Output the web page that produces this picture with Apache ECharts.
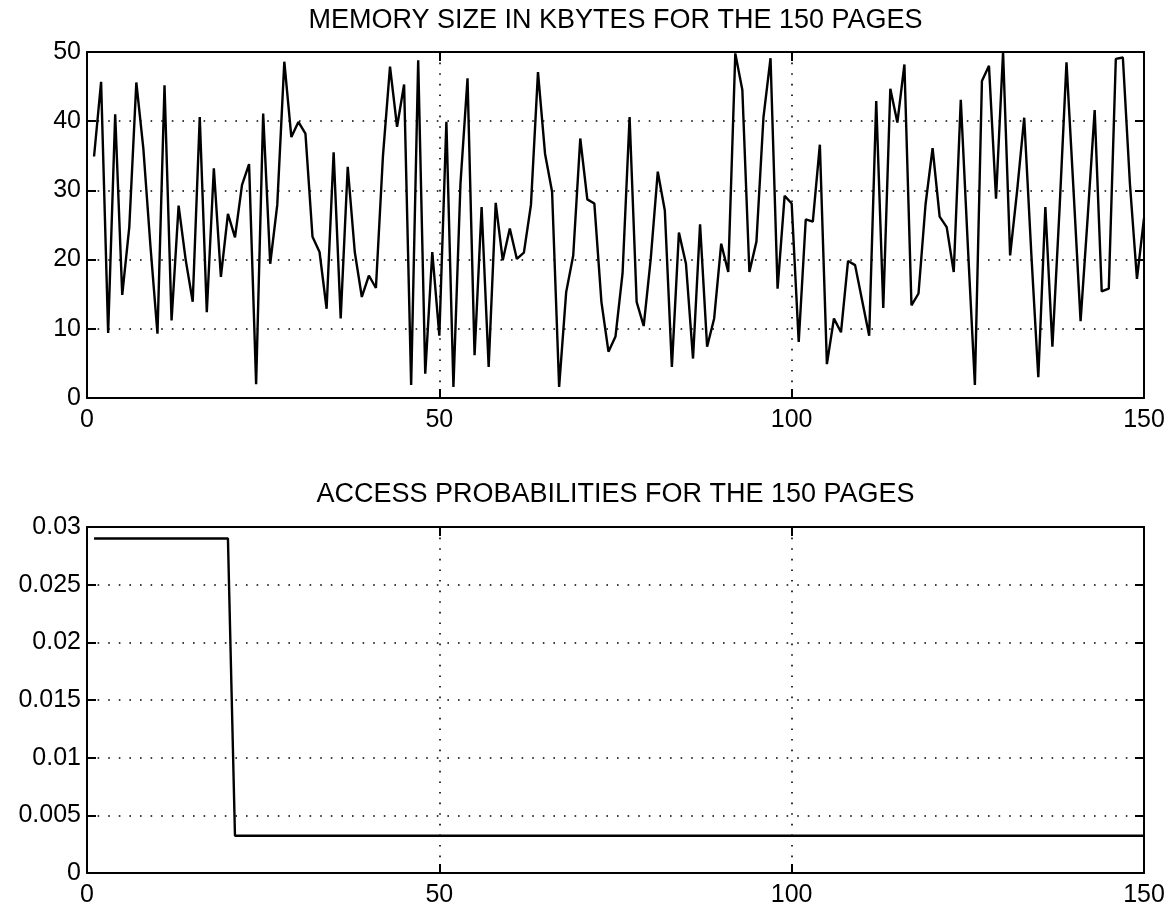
<!DOCTYPE html>
<html>
<head>
<meta charset="utf-8">
<script src="https://cdn.jsdelivr.net/npm/echarts@6/dist/echarts.min.js"></script>
<style>
html,body{margin:0;padding:0;background:#fff;}
#chart{width:1175px;height:911px;}
</style>
</head>
<body>
<div id="chart"></div>
<script>
// ---- data ----
const topTitle = 'MEMORY SIZE IN KBYTES FOR THE 150 PAGES';
const bottomTitle = 'ACCESS PROBABILITIES FOR THE 150 PAGES';

const memorySize = [
  34.9, 45.7, 9.4, 41.0, 14.9, 24.7, 45.6, 36.0, 22.0, 9.3,
  45.2, 11.2, 27.8, 20.0, 13.9, 40.6, 12.4, 33.2, 17.5, 26.6,
  23.2, 30.8, 33.8, 2.0, 41.1, 19.4, 27.9, 48.6, 37.7, 39.9,
  38.2, 23.3, 21.1, 12.9, 35.5, 11.5, 33.4, 21.1, 14.6, 17.7,
  15.9, 35.0, 47.9, 39.2, 45.3, 1.9, 48.8, 3.5, 21.1, 9.0,
  39.9, 1.6, 31.0, 46.2, 6.2, 27.6, 4.5, 28.2, 19.9, 24.5,
  20.1, 21.0, 27.9, 47.1, 35.3, 29.8, 1.6, 15.3, 20.6, 37.5,
  28.7, 28.1, 13.9, 6.7, 8.9, 18.0, 40.6, 13.9, 10.4, 20.1,
  32.7, 27.1, 4.5, 23.9, 19.4, 5.7, 25.1, 7.4, 11.5, 22.3,
  18.2, 49.8, 44.5, 18.2, 22.6, 40.6, 49.1, 15.8, 29.2, 28.1,
  8.1, 25.8, 25.5, 36.6, 4.9, 11.5, 9.5, 19.8, 19.2, 14.1,
  9.0, 42.9, 13.0, 44.7, 39.8, 48.2, 13.4, 15.1, 28.0, 36.1,
  26.2, 24.7, 18.2, 43.1, 22.0, 1.9, 45.8, 48.0, 28.8, 50.0,
  20.6, 30.0, 40.5, 21.0, 3.0, 27.6, 7.4, 27.0, 48.5, 30.0,
  11.1, 26.0, 41.6, 15.4, 15.8, 49.0, 49.2, 31.0, 17.2, 26.0
];

const accessProb = [
  0.029, 0.029, 0.029, 0.029, 0.029, 0.029, 0.029, 0.029, 0.029, 0.029,
  0.029, 0.029, 0.029, 0.029, 0.029, 0.029, 0.029, 0.029, 0.029, 0.029,
  0.00323, 0.00323, 0.00323, 0.00323, 0.00323, 0.00323, 0.00323, 0.00323, 0.00323, 0.00323,
  0.00323, 0.00323, 0.00323, 0.00323, 0.00323, 0.00323, 0.00323, 0.00323, 0.00323, 0.00323,
  0.00323, 0.00323, 0.00323, 0.00323, 0.00323, 0.00323, 0.00323, 0.00323, 0.00323, 0.00323,
  0.00323, 0.00323, 0.00323, 0.00323, 0.00323, 0.00323, 0.00323, 0.00323, 0.00323, 0.00323,
  0.00323, 0.00323, 0.00323, 0.00323, 0.00323, 0.00323, 0.00323, 0.00323, 0.00323, 0.00323,
  0.00323, 0.00323, 0.00323, 0.00323, 0.00323, 0.00323, 0.00323, 0.00323, 0.00323, 0.00323,
  0.00323, 0.00323, 0.00323, 0.00323, 0.00323, 0.00323, 0.00323, 0.00323, 0.00323, 0.00323,
  0.00323, 0.00323, 0.00323, 0.00323, 0.00323, 0.00323, 0.00323, 0.00323, 0.00323, 0.00323,
  0.00323, 0.00323, 0.00323, 0.00323, 0.00323, 0.00323, 0.00323, 0.00323, 0.00323, 0.00323,
  0.00323, 0.00323, 0.00323, 0.00323, 0.00323, 0.00323, 0.00323, 0.00323, 0.00323, 0.00323,
  0.00323, 0.00323, 0.00323, 0.00323, 0.00323, 0.00323, 0.00323, 0.00323, 0.00323, 0.00323,
  0.00323, 0.00323, 0.00323, 0.00323, 0.00323, 0.00323, 0.00323, 0.00323, 0.00323, 0.00323,
  0.00323, 0.00323, 0.00323, 0.00323, 0.00323, 0.00323, 0.00323, 0.00323, 0.00323, 0.00323
];

const xTicks = {min: 0, max: 150, interval: 50};
const yTopTicks = {min: 0, max: 50, interval: 10};
const yBottomTicks = {min: 0, max: 0.03, interval: 0.005};

// ---- build ----
const pages = memorySize.map((_, i) => i + 1);
const memPairs = pages.map((p, i) => [p, memorySize[i]]);
const probPairs = pages.map((p, i) => [p, accessProb[i]]);

const FONT = '"Liberation Sans", Arial, Helvetica, sans-serif';
const LABEL_SIZE = 25;
const dotted = {color: '#000', width: 1.6, type: [1.6, 9]};
const axisLineStyle = {show: true, onZero: false, lineStyle: {color: '#000', width: 2}};
const tickStyle = {show: true, inside: true, length: 9, lineStyle: {color: '#000', width: 2}};

function fmtProb(v) { return String(parseFloat(Number(v).toFixed(4))); }

function makeAxes(gridIndex, yt, yFmt) {
  const xs = [
    {
      type: 'value', gridIndex, position: 'bottom', min: xTicks.min, max: xTicks.max, interval: xTicks.interval,
      axisLine: axisLineStyle, axisTick: tickStyle,
      axisLabel: {color: '#000', fontSize: LABEL_SIZE, fontFamily: FONT, margin: 10},
      splitLine: {show: true, lineStyle: dotted}
    },
    {
      type: 'value', gridIndex, position: 'top', min: xTicks.min, max: xTicks.max, interval: xTicks.interval,
      axisLine: axisLineStyle, axisTick: tickStyle, axisLabel: {show: false}, splitLine: {show: false}
    }
  ];
  const ys = [
    {
      type: 'value', gridIndex, position: 'left', min: yt.min, max: yt.max, interval: yt.interval,
      axisLine: axisLineStyle, axisTick: tickStyle,
      axisLabel: {color: '#000', fontSize: LABEL_SIZE, fontFamily: FONT, margin: 6, formatter: yFmt},
      splitLine: {show: true, lineStyle: dotted}
    },
    {
      type: 'value', gridIndex, position: 'right', min: yt.min, max: yt.max, interval: yt.interval,
      axisLine: axisLineStyle, axisTick: tickStyle, axisLabel: {show: false}, splitLine: {show: false}
    }
  ];
  return {xs, ys};
}

const a0 = makeAxes(0, yTopTicks, v => String(v));
const a1 = makeAxes(1, yBottomTicks, fmtProb);

const chart = echarts.init(document.getElementById('chart'), null, {renderer: 'canvas'});
chart.setOption({
  backgroundColor: '#fff',
  animation: false,
  grid: [
    {left: 87, right: 31, top: 52, height: 346},
    {left: 87, right: 31, top: 527, height: 346}
  ],
  graphic: [
    {type: 'text', x: 615.5, y: 21, style: {text: topTitle, fontSize: 27, fontFamily: FONT, fill: '#000', align: 'center', verticalAlign: 'middle'}},
    {type: 'text', x: 615.5, y: 495, style: {text: bottomTitle, fontSize: 27, fontFamily: FONT, fill: '#000', align: 'center', verticalAlign: 'middle'}}
  ],
  xAxis: [...a0.xs, ...a1.xs],
  yAxis: [...a0.ys, ...a1.ys],
  series: [
    {type: 'line', xAxisIndex: 0, yAxisIndex: 0, data: memPairs, showSymbol: false, symbol: 'none',
     lineStyle: {color: '#000', width: 2.4}, clip: false},
    {type: 'line', xAxisIndex: 2, yAxisIndex: 2, data: probPairs, showSymbol: false, symbol: 'none',
     lineStyle: {color: '#000', width: 2.4}, clip: false}
  ]
});
</script>
</body>
</html>
